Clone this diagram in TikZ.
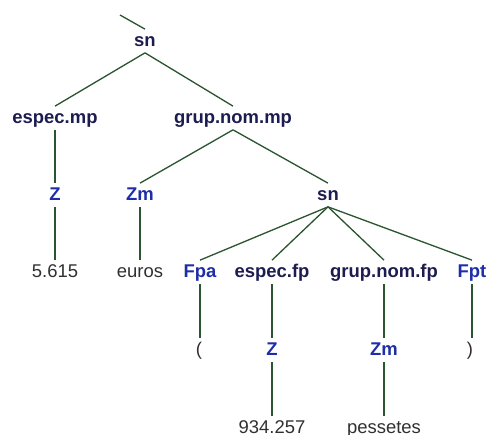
\documentclass[tikz,border=0pt]{standalone}
\usepackage{fontspec}
\setmainfont{Liberation Sans}
\definecolor{tagcol}{HTML}{1C1C50}
\definecolor{poscol}{HTML}{1E2EA8}
\definecolor{wordcol}{HTML}{303030}
\definecolor{edgecol}{HTML}{2A5530}
\tikzset{
  lbl/.style={inner sep=0pt, minimum height=0.46cm, text height=1.55ex, text depth=0.45ex, font=\fontsize{10.5}{12}\selectfont},
  tag/.style={lbl, text=tagcol, font=\fontsize{10.5}{12}\selectfont\bfseries},
  postag/.style={lbl, text=poscol, font=\fontsize{10.5}{12}\selectfont\bfseries},
  word/.style={lbl, text=wordcol},
  edge/.style={draw=edgecol, line width=0.75pt}
}
\begin{document}
\begin{tikzpicture}[x=0.02cm, y=-0.02cm]
    \useasboundingbox (0,0) rectangle (489,435);
    \coordinate (up) at (120,15);
    \node[tag] (sn) at (145,41) {sn};
    \node[tag] (espmp) at (55,118) {espec.mp};
    \node[tag] (gnmp) at (233,118) {grup.nom.mp};
    \node[postag] (z1) at (55,195) {Z};
    \node[word] (w1) at (55,272) {5.615};
    \node[postag] (zm1) at (140,195) {Zm};
    \node[word] (w2) at (140,272) {euros};
    \node[tag] (sn2) at (328,195) {sn};
    \node[postag] (fpa) at (200,272) {Fpa};
    \node[tag] (espfp) at (272,272) {espec.fp};
    \node[tag] (gnfp) at (384,272) {grup.nom.fp};
    \node[postag] (fpt) at (472,272) {Fpt};
    \node[word] (w3) at (199,350) {(};
    \node[postag] (z2) at (272,350) {Z};
    \node[postag] (zm2) at (384,350) {Zm};
    \node[word] (w4) at (470,350) {)};
    \node[word] (w5) at (272,428) {934.257};
    \node[word] (w6) at (384,428) {pessetes};
    \draw[edge] (up) -- (sn.north);
    \draw[edge] (sn.south) -- (espmp.north);
    \draw[edge] (sn.south) -- (gnmp.north);
    \draw[edge] (espmp.south) -- (z1.north);
    \draw[edge] (z1.south) -- (w1.north);
    \draw[edge] (gnmp.south) -- (zm1.north);
    \draw[edge] (gnmp.south) -- (sn2.north);
    \draw[edge] (zm1.south) -- (w2.north);
    \draw[edge] (sn2.south) -- (fpa.north);
    \draw[edge] (sn2.south) -- (espfp.north);
    \draw[edge] (sn2.south) -- (gnfp.north);
    \draw[edge] (sn2.south) -- (fpt.north);
    \draw[edge] (fpa.south) -- (fpa.south |- w3.north);
    \draw[edge] (espfp.south) -- (z2.north);
    \draw[edge] (gnfp.south) -- (zm2.north);
    \draw[edge] (fpt.south) -- (fpt.south |- w4.north);
    \draw[edge] (z2.south) -- (w5.north);
    \draw[edge] (zm2.south) -- (w6.north);
\end{tikzpicture}
\end{document}
